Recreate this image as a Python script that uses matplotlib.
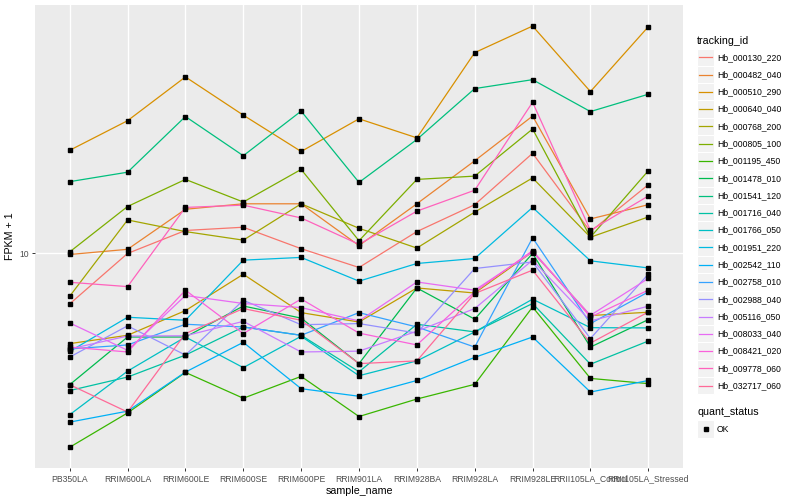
import numpy as np
import matplotlib
matplotlib.use('Agg')
import matplotlib.pyplot as plt
from matplotlib.patches import Rectangle
from matplotlib.lines import Line2D
from matplotlib.ticker import NullLocator

plt.rcParams['font.family'] = ['Liberation Sans', 'DejaVu Sans']

samples = ['PB350LA', 'RRIM600LA', 'RRIM600LE', 'RRIM600SE', 'RRIM600PE', 'RRIM901LA',
           'RRIM928BA', 'RRIM928LA', 'RRIM928LE', 'RRII105LA_Control', 'RRII105LA_Stressed']

tracking_ids = ['Hb_000130_220', 'Hb_000482_040', 'Hb_000510_290', 'Hb_000640_040',
                'Hb_000768_200', 'Hb_000805_100', 'Hb_001195_450', 'Hb_001478_010',
                'Hb_001541_120', 'Hb_001716_040', 'Hb_001766_050', 'Hb_001951_220',
                'Hb_002542_110', 'Hb_002758_010', 'Hb_002988_040', 'Hb_005116_050',
                'Hb_008033_040', 'Hb_008421_020', 'Hb_009778_060', 'Hb_032717_060']

# ggplot hue palette, 20 levels
colors = ['#F8766D', '#EA8331', '#D89000', '#C09B00', '#A3A500', '#7CAE00', '#39B600',
          '#00BB4E', '#00BF7D', '#00C1A3', '#00BFC4', '#00BAE0', '#00B0F6', '#35A2FF',
          '#9590FF', '#C77CFF', '#E76BF3', '#FA62DB', '#FF62BC', '#FF6A98']

# FPKM + 1, one list per gene, in the order of samples
hb_000130_220 = [6.78, 9.98, 11.9, 12.2, 10.35, 8.96, 11.8, 14.5, 21.5, 11.8, 16.9]
hb_000482_040 = [9.9, 10.3, 14.0, 14.6, 14.6, 10.6, 14.6, 20.3, 28.6, 13.0, 14.5]
hb_000510_290 = [22.0, 27.6, 38.6, 28.8, 21.8, 28.0, 24.2, 46.5, 57.0, 34.5, 56.7]
hb_000640_040 = [5.0, 5.33, 6.44, 8.51, 6.34, 5.90, 7.66, 7.37, 10.1, 6.20, 6.36]
hb_000768_200 = [7.19, 12.9, 11.8, 11.05, 14.6, 12.1, 10.4, 13.7, 17.8, 11.3, 13.2]
hb_000805_100 = [10.1, 14.3, 17.6, 14.8, 19.0, 11.0, 17.6, 18.05, 25.9, 11.3, 18.8]
hb_001195_450 = [2.26, 2.94, 4.01, 3.29, 3.89, 2.86, 3.27, 3.66, 6.62, 3.83, 3.68]
hb_001478_010 = [3.65, 5.26, 5.26, 6.67, 6.08, 4.29, 7.66, 6.03, 9.98, 4.87, 6.01]
hb_001541_120 = [17.3, 18.6, 28.5, 21.1, 29.7, 17.2, 23.9, 35.3, 37.8, 29.6, 33.8]
hb_001716_040 = [3.49, 3.87, 4.58, 5.68, 5.33, 4.03, 5.80, 5.47, 6.80, 4.27, 5.10]
hb_001766_050 = [2.90, 4.05, 5.26, 4.16, 5.29, 3.91, 4.38, 5.47, 7.03, 5.65, 5.64]
hb_001951_220 = [4.71, 6.12, 5.98, 9.48, 9.68, 8.07, 9.24, 9.60, 14.2, 9.43, 8.93]
hb_002542_110 = [2.74, 2.98, 4.02, 5.05, 3.54, 3.34, 3.77, 4.50, 5.26, 3.45, 3.77]
hb_002758_010 = [4.80, 4.95, 5.80, 5.68, 5.33, 6.34, 5.68, 4.87, 11.25, 5.83, 7.43]
hb_002988_040 = [4.51, 5.73, 4.58, 6.97, 5.78, 5.83, 5.42, 8.89, 9.35, 5.20, 8.51]
hb_005116_050 = [4.80, 5.30, 5.31, 5.93, 4.69, 4.72, 5.50, 6.54, 9.48, 5.95, 6.66]
hb_008033_040 = [5.86, 4.75, 7.23, 6.80, 6.59, 5.95, 8.02, 7.53, 10.1, 6.21, 8.24]
hb_008421_020 = [4.87, 4.69, 7.53, 5.40, 7.04, 5.42, 4.95, 7.43, 10.2, 6.13, 7.53]
hb_009778_060 = [8.00, 7.74, 14.2, 14.45, 13.1, 10.7, 13.8, 16.2, 31.8, 11.9, 15.5]
hb_032717_060 = [3.65, 2.96, 5.40, 6.54, 5.98, 4.29, 4.38, 7.34, 8.78, 5.02, 6.37]

series = [hb_000130_220, hb_000482_040, hb_000510_290, hb_000640_040, hb_000768_200,
          hb_000805_100, hb_001195_450, hb_001478_010, hb_001541_120, hb_001716_040,
          hb_001766_050, hb_001951_220, hb_002542_110, hb_002758_010, hb_002988_040,
          hb_005116_050, hb_008033_040, hb_008421_020, hb_009778_060, hb_032717_060]

W, H = 800, 500
fig = plt.figure(figsize=(8, 5), dpi=100)
# panel in pixels: x 35..683, y 5..468
ax = fig.add_axes([35 / W, 1 - 468.3 / H, (683 - 35) / W, (468.3 - 5) / H])
ax.set_facecolor('#EBEBEB')
for s in ax.spines.values():
    s.set_visible(False)

x = np.arange(len(samples))
for vals, col in zip(series, colors):
    ax.plot(x, vals, color=col, lw=0.9, zorder=2, solid_capstyle='butt')
for vals in series:
    ax.plot(x, vals, ls='none', marker='s', ms=2.3, color='black', zorder=3)

ax.set_yscale('log')
lo = np.log10(min(min(v) for v in series))
hi = np.log10(max(max(v) for v in series))
pad = (hi - lo) * 0.05
ax.set_ylim(10 ** (lo - pad), 10 ** (hi + pad))
ax.set_xlim(-0.6, len(samples) - 0.4)
ax.set_yticks([10])
ax.set_yticklabels(['10'])
ax.yaxis.set_minor_locator(NullLocator())
ax.set_xticks(x)
ax.set_xticklabels(samples)
ax.tick_params(axis='both', length=2.5, width=0.7, color='#333333',
               labelsize=6.2, labelcolor='#4D4D4D', pad=2)
ax.grid(True, color='white', lw=1.0, zorder=0)
ax.set_axisbelow(True)
ax.set_xlabel('sample_name', fontsize=7.7, labelpad=2)
ax.set_ylabel('FPKM + 1', fontsize=7.7, labelpad=3)


def fx(px):
    return px / W


def fy(py):
    return 1 - py / H


# legend: tracking_id
fig.text(fx(697), fy(40.7), 'tracking_id', fontsize=7.7, va='center', ha='left')
step = 17.28
for i, (name, col) in enumerate(zip(tracking_ids, colors)):
    yc = 57.3 + i * step
    fig.patches.append(Rectangle((fx(697), fy(yc + step / 2)), 17 / W, step / H,
                                 transform=fig.transFigure, facecolor='#F2F2F2',
                                 edgecolor='white', lw=0.8))
    fig.lines.append(Line2D([fx(699), fx(712)], [fy(yc), fy(yc)], color=col, lw=0.9,
                            transform=fig.transFigure))
    fig.text(fx(717), fy(yc), name, fontsize=6.2, va='center', ha='left')

# legend: quant_status
fig.text(fx(697), fy(412.3), 'quant_status', fontsize=7.7, va='center', ha='left')
fig.patches.append(Rectangle((fx(697), fy(429 + step / 2)), 17 / W, step / H,
                             transform=fig.transFigure, facecolor='#F2F2F2',
                             edgecolor='white', lw=0.8))
fig.lines.append(Line2D([fx(705.5)], [fy(429)], marker='s', ms=2.3, color='black',
                        ls='none', transform=fig.transFigure))
fig.text(fx(717), fy(429), 'OK', fontsize=6.2, va='center', ha='left')

fig.savefig('out.png', dpi=100)
